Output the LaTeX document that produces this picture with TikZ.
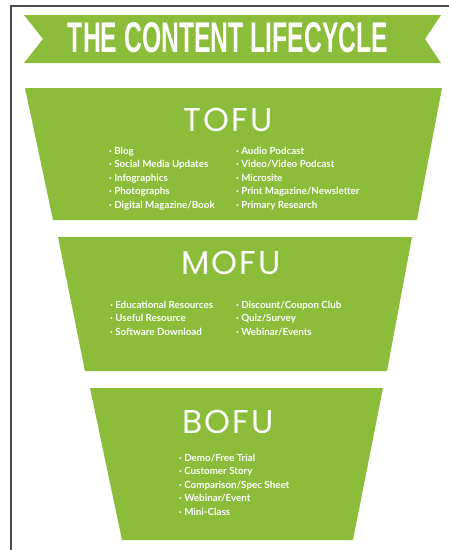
\documentclass[tikz,border=0pt]{standalone}
\usepackage{fontspec}
\setmainfont{Lato}
\newfontfamily\headfont{Poppins}[LetterSpace=6]
\newfontfamily\bannerfont{Liberation Sans}
\usepackage{graphicx}
\definecolor{funnelgreen}{RGB}{139,189,58}

\begin{document}
\begin{tikzpicture}[x=1pt,y=-1pt]
    \tikzset{stage/.style={fill=funnelgreen},
        stagetitle/.style={text=white,inner sep=0pt,
            font=\headfont\fontsize{33}{33}\selectfont},
        itemlist/.style={text=white,inner sep=0pt,align=left,anchor=north west,
            font=\bfseries\fontsize{9.8}{13.4}\selectfont}}
    \useasboundingbox (0,0) rectangle (449,550);
    % frame
    \draw[black!70,line width=2pt] (449,6) -- (11,6) -- (11,550);
    % banner
    \fill[stage] (24,15) -- (441,15) -- (425,39) -- (441,63) -- (24,63) -- (43,39) -- cycle;
    \node[text=white,inner sep=0pt] (banner) at (228,38)
        {\resizebox{320pt}{30pt}{\bannerfont\bfseries THE CONTENT LIFECYCLE}};
    % TOFU
    \fill[stage] (25,88) -- (442,88) -- (417,220) -- (53,220) -- cycle;
    \node[stagetitle] (tofu) at (228,120) {TOFU};
    \node[itemlist] (tofuleft) at (109,147) {· Blog\\· Social Media Updates\\· Infographics\\· Photographs\\· Digital Magazine/Book};
    \node[itemlist] (tofuright) at (236,147) {· Audio Podcast\\· Video/Video Podcast\\· Microsite\\· Print Magazine/Newsletter\\· Primary Research};
    % MOFU
    \fill[stage] (58,237) -- (412,237) -- (387,371) -- (85,371) -- cycle;
    \node[stagetitle] (mofu) at (231,263) {MOFU};
    \node[itemlist] (mofuleft) at (110,301) {· Educational Resources\\· Useful Resource\\· Software Download};
    \node[itemlist] (mofuright) at (236,301) {· Discount/Coupon Club\\· Quiz/Survey\\· Webinar/Events};
    % BOFU
    \fill[stage] (90,388) -- (383,388) -- (353,540) -- (122,540) -- cycle;
    \node[stagetitle] (bofu) at (228,422) {BOFU};
    \node[itemlist] (bofulist) at (179,454) {· Demo/Free Trial\\· Customer Story\\· Comparison/Spec Sheet\\· Webinar/Event\\· Mini-Class};
\end{tikzpicture}
\end{document}
